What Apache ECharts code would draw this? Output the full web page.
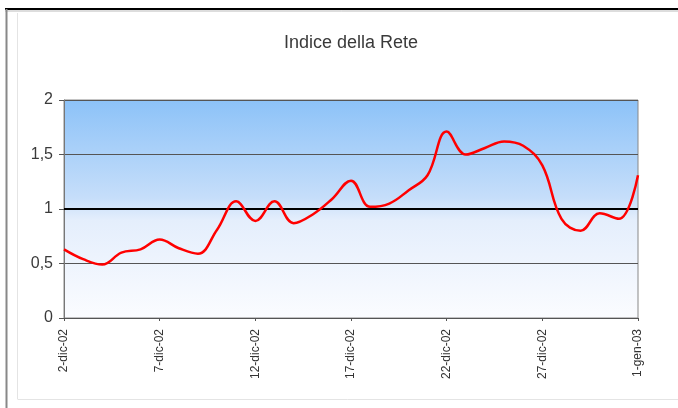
<!DOCTYPE html>
<html>
<head>
<meta charset="utf-8">
<script src="https://cdn.jsdelivr.net/npm/echarts@6/dist/echarts.min.js"></script>
<style>
  html, body { margin: 0; padding: 0; background: #fff; }
  #chart { width: 678px; height: 408px; }
</style>
</head>
<body>
<div id="chart"></div>
<script>
// giorni (categorie asse x)
const giorni = [
  '2-dic-02', '3-dic-02', '4-dic-02', '5-dic-02', '6-dic-02', '7-dic-02',
  '8-dic-02', '9-dic-02', '10-dic-02', '11-dic-02', '12-dic-02', '13-dic-02',
  '14-dic-02', '15-dic-02', '16-dic-02', '17-dic-02', '18-dic-02', '19-dic-02',
  '20-dic-02', '21-dic-02', '22-dic-02', '23-dic-02', '24-dic-02', '25-dic-02',
  '26-dic-02', '27-dic-02', '28-dic-02', '29-dic-02', '30-dic-02', '31-dic-02',
  '1-gen-03'
]
// valori dell'indice
const indiceRete = [
  0.63, 0.54, 0.49, 0.60, 0.63, 0.72, 0.64, 0.59, 0.81, 1.07,
  0.89, 1.07, 0.87, 0.95, 1.09, 1.26, 1.02, 1.05, 1.17, 1.31,
  1.71, 1.50, 1.56, 1.62, 1.58, 1.40, 0.91, 0.80, 0.96, 0.91,
  1.31
]
const titolo = 'Indice della Rete'
const livelloRiferimento = 1

const chart = echarts.init(document.getElementById('chart'))
chart.setOption({
  animation: false,
  backgroundColor: '#fff',
  title: {
    text: titolo,
    left: 346,
    top: 29,
    textAlign: 'center',
    textStyle: {
      fontFamily: 'Liberation Sans Narrow, Liberation Sans, Arial',
      fontSize: 18,
      fontWeight: 'normal',
      color: '#3a3a3a'
    }
  },
  // cornice del grafico
  graphic: [
    { type: 'line', shape: { x1: 5, y1: 9, x2: 678, y2: 9 }, style: { stroke: '#000', lineWidth: 2 } },
    { type: 'line', shape: { x1: 5, y1: 11, x2: 678, y2: 11 }, style: { stroke: '#bbb', lineWidth: 1 } },
    { type: 'line', shape: { x1: 6.5, y1: 9, x2: 6.5, y2: 408 }, style: { stroke: '#888', lineWidth: 2 } },
    { type: 'line', shape: { x1: 17.5, y1: 13, x2: 17.5, y2: 399 }, style: { stroke: '#e4e4e4', lineWidth: 1 } },
    { type: 'line', shape: { x1: 17.5, y1: 399.5, x2: 678, y2: 399.5 }, style: { stroke: '#e4e4e4', lineWidth: 1 } }
  ],
  grid: {
    left: 64,
    right: 40,
    top: 100,
    bottom: 90,
    show: true,
    borderColor: '#888',
    borderWidth: 1,
    backgroundColor: new echarts.graphic.LinearGradient(0, 0, 0, 1, [
      { offset: 0, color: '#8cc2f8' },
      { offset: 0.45, color: '#c6defa' },
      { offset: 0.55, color: '#e4eefc' },
      { offset: 1, color: '#fbfcff' }
    ])
  },
  xAxis: {
    type: 'category',
    data: giorni,
    boundaryGap: false,
    axisLine: { lineStyle: { color: '#555', width: 1 } },
    axisTick: { show: true, interval: 4, length: 3, lineStyle: { color: '#555' } },
    axisLabel: {
      interval: 4,
      rotate: 90,
      margin: 11,
      fontFamily: 'Liberation Sans, Arial',
      fontSize: 12,
      color: '#333'
    },
    splitLine: { show: false }
  },
  yAxis: {
    type: 'value',
    min: 0,
    max: 2,
    interval: 0.5,
    axisLine: { show: true, lineStyle: { color: '#777', width: 1 } },
    axisTick: { show: true, length: 5, lineStyle: { color: '#555' } },
    axisLabel: {
      margin: 11,
      fontFamily: 'Liberation Sans Narrow, Liberation Sans, Arial',
      fontSize: 16,
      color: '#3a3a3a',
      formatter: v => String(v).replace('.', ',')
    },
    splitLine: { show: true, lineStyle: { color: '#555', width: 1 } }
  },
  series: [
    {
      name: titolo,
      type: 'line',
      data: indiceRete,
      smooth: 0.4,
      symbol: 'none',
      lineStyle: { color: '#ff0000', width: 2.5 },
      z: 3,
      markLine: {
        silent: true,
        symbol: 'none',
        label: { show: false },
        lineStyle: { color: '#000', width: 2, type: 'solid' },
        data: [{ yAxis: livelloRiferimento }],
        z: 2
      }
    }
  ]
})
</script>
</body>
</html>
